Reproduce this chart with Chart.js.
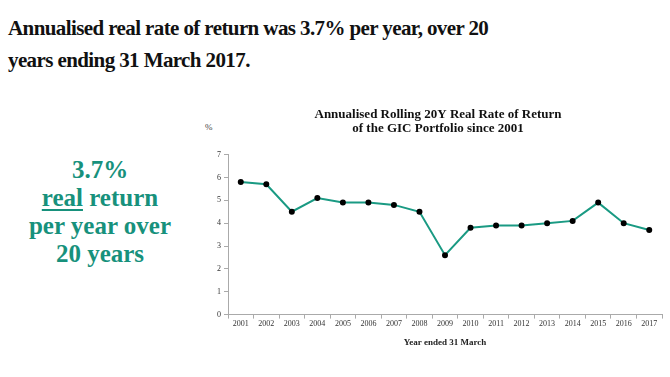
<!DOCTYPE html>
<html>
<head>
<meta charset="utf-8">
<script src="https://cdn.jsdelivr.net/npm/chart.js@4"></script>
<style>
    body { margin: 0; background: #fff; width: 670px; height: 377px; overflow: hidden; position: relative; font-family: "Liberation Serif", serif; }
    .headline { position: absolute; left: 8px; top: 12px; font-size: 21px; letter-spacing: -0.6px; font-weight: bold; line-height: 32px; color: #111; }
    .side { position: absolute; left: 0; top: 156px; width: 200px; text-align: center; font-size: 25px; font-weight: bold; line-height: 28px; color: #17917c; }
    .side u { text-decoration-thickness: 2px; text-underline-offset: 3px; }
    .pct { position: absolute; left: 205px; top: 122px; font-size: 9px; color: #444; }
    .chart-box { position: absolute; left: 190px; top: 101px; width: 480px; height: 247px; }
</style>
</head>
<body>
<div class="headline">Annualised real rate of return was 3.7% per year, over 20<br>years ending 31 March 2017.</div>
<div class="side">3.7%<br><u>real</u> return<br>per year over<br>20 years</div>
<div class="pct">%</div>
<div class="chart-box"><canvas id="gicChart"></canvas></div>
<script>
const years = ['2001', '2002', '2003', '2004', '2005', '2006', '2007', '2008', '2009',
    '2010', '2011', '2012', '2013', '2014', '2015', '2016', '2017'];
const realReturn = [5.8, 5.7, 4.5, 5.1, 4.9, 4.9, 4.8, 4.5, 2.6,
    3.8, 3.9, 3.9, 4.0, 4.1, 4.9, 4.0, 3.7];
const yTicks = [0, 1, 2, 3, 4, 5, 6, 7];

const ctx = document.getElementById('gicChart').getContext('2d');
new Chart(ctx, {
    type: 'line',
    data: {
        labels: years,
        datasets: [{
            label: 'Real return',
            data: realReturn,
            borderColor: '#1a9a83',
            borderWidth: 2,
            pointBackgroundColor: '#000',
            pointBorderColor: '#000',
            pointRadius: 2,
            tension: 0
        }]
    },
    options: {
        responsive: true,
        maintainAspectRatio: false,
        animation: false,
        layout: { padding: { left: 24, right: 8, top: 0, bottom: 0 } },
        scales: {
            x: {
                offset: true,
                grid: { offset: true, drawOnChartArea: false, tickLength: 4, color: '#aaa' },
                border: { color: '#aaa' },
                ticks: { color: '#333', font: { family: 'Liberation Serif', size: 8 }, maxRotation: 0, padding: 1 },
                title: {
                    display: true,
                    text: 'Year ended 31 March',
                    color: '#222',
                    font: { family: 'Liberation Serif', size: 9, weight: 'bold' },
                    padding: { top: 7, bottom: 0 }
                }
            },
            y: {
                min: 0,
                max: 7,
                afterBuildTicks: axis => { axis.ticks = yTicks.map(v => ({ value: v })); },
                grid: { drawOnChartArea: false, tickLength: 4, color: '#aaa' },
                border: { color: '#aaa' },
                ticks: { color: '#333', font: { family: 'Liberation Serif', size: 8 }, padding: 3 }
            }
        },
        plugins: {
            legend: { display: false },
            tooltip: { enabled: false },
            title: {
                display: true,
                text: ['Annualised Rolling 20Y Real Rate of Return', 'of the GIC Portfolio since 2001'],
                color: '#111',
                font: { family: 'Liberation Serif', size: 13, weight: 'bold', lineHeight: 1.1 },
                padding: { top: 6, bottom: 19 }
            }
        }
    }
});
</script>
</body>
</html>
